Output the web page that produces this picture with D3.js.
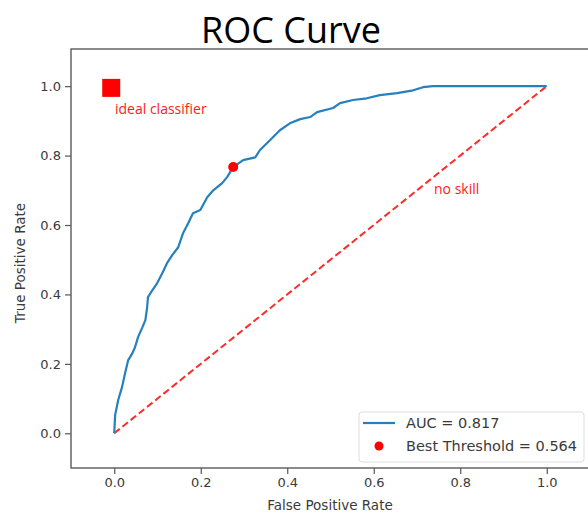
<!DOCTYPE html>
<html lang="en">
<head>
  <meta charset="UTF-8">
  <title>ROC Curve</title>
  <style>
  body { margin: 0; background: #fff; }
  svg { display: block; }
  .tick text { font-family: "DejaVu Sans", sans-serif; font-size: 13px; fill: #3a3a3a; }
  .tick line { stroke: #555; stroke-width: 1.2px; }
  .axis-label { font-family: "DejaVu Sans", sans-serif; font-size: 13.5px; fill: #3a3a3a; }
  .note { font-family: "Open Sans", sans-serif; font-size: 14px; fill: #ff2020; }
  .legend text { font-family: "DejaVu Sans", sans-serif; font-size: 14.5px; fill: #3a3a3a; }
  </style>
</head>
<body>
  <svg></svg>
  <script src="https://d3js.org/d3.v7.min.js"></script>
  <script>

  // ROC curve points (false positive rate, true positive rate)
  var fpr = [0, 0.002, 0.009, 0.018, 0.025, 0.032, 0.042, 0.048, 0.055, 0.065, 0.072, 0.076,
             0.078, 0.088, 0.099, 0.111, 0.122, 0.134, 0.148, 0.159, 0.171, 0.182, 0.199,
             0.215, 0.229, 0.238, 0.249, 0.261, 0.275, 0.298, 0.326, 0.337, 0.360, 0.383,
             0.406, 0.430, 0.453, 0.469, 0.506, 0.522, 0.552, 0.584, 0.614, 0.654, 0.691,
             0.714, 0.737, 1.0];
  var tpr = [0, 0.052, 0.095, 0.133, 0.173, 0.210, 0.231, 0.248, 0.277, 0.305, 0.326, 0.363,
             0.392, 0.412, 0.432, 0.461, 0.490, 0.513, 0.536, 0.576, 0.605, 0.634, 0.643,
             0.680, 0.700, 0.709, 0.720, 0.738, 0.767, 0.787, 0.795, 0.816, 0.844, 0.873,
             0.893, 0.905, 0.911, 0.925, 0.937, 0.951, 0.960, 0.965, 0.974, 0.980, 0.988,
             0.997, 1.0, 1.0];

  var noSkill = [[0, 0], [1, 1]];
  var bestPoint = [0.275, 0.767];
  var idealPoint = [-0.007, 0.995];

  var tickValues = [0, 0.2, 0.4, 0.6, 0.8, 1.0];
  var legendLabels = ['AUC = 0.817', 'Best Threshold = 0.564'];

  var width = 588, height = 514;
  var svg = d3.select('svg').attr('width', width).attr('height', height);

  var plotLeft = 71, plotTop = 49, plotRight = 590, plotBottom = 468;

  var x = d3.scaleLinear().domain([-0.1, 1.1]).range([plotLeft, plotRight]);
  var y = d3.scaleLinear().domain([-0.1, 1.107]).range([plotBottom, plotTop]);

  // title
  svg.append('text')
     .attr('x', 291)
     .attr('y', 43)
     .attr('text-anchor', 'middle')
     .style('font-family', '"Open Sans", sans-serif')
     .style('font-size', '36px')
     .style('fill', '#000')
     .text('ROC Curve');

  // axes
  svg.append('g')
     .attr('transform', 'translate(0,' + plotBottom + ')')
     .call(d3.axisBottom(x).tickValues(tickValues).tickFormat(d3.format('.1f')).tickSize(6).tickPadding(4))
     .call(function (g) { g.select('.domain').remove(); });

  svg.append('g')
     .attr('transform', 'translate(' + plotLeft + ',0)')
     .call(d3.axisLeft(y).tickValues(tickValues).tickFormat(d3.format('.1f')).tickSize(6).tickPadding(4))
     .call(function (g) { g.select('.domain').remove(); });

  // frame
  svg.append('rect')
     .attr('x', plotLeft)
     .attr('y', plotTop)
     .attr('width', plotRight - plotLeft)
     .attr('height', plotBottom - plotTop)
     .attr('fill', 'none')
     .attr('stroke', '#5a5a5a')
     .attr('stroke-width', 1.4);

  svg.append('text')
     .attr('class', 'axis-label')
     .attr('x', 330)
     .attr('y', 510)
     .attr('text-anchor', 'middle')
     .text('False Positive Rate');

  svg.append('text')
     .attr('class', 'axis-label')
     .attr('transform', 'translate(25,' + 263 + ') rotate(-90)')
     .attr('text-anchor', 'middle')
     .text('True Positive Rate');

  // no skill diagonal
  var line = d3.line()
    .x(function (d) { return x(d[0]); })
    .y(function (d) { return y(d[1]); });

  svg.append('path')
     .datum(noSkill)
     .attr('d', line)
     .attr('fill', 'none')
     .attr('stroke', '#ff2a2a')
     .attr('stroke-width', 2)
     .attr('stroke-dasharray', '7,3.5');

  // roc curve
  var roc = fpr.map(function (f, i) { return [f, tpr[i]]; });

  svg.append('path')
     .datum(roc)
     .attr('d', line)
     .attr('fill', 'none')
     .attr('stroke', '#2580c0')
     .attr('stroke-width', 2.2)
     .attr('stroke-linejoin', 'round');

  // best threshold
  svg.append('circle')
     .attr('cx', x(bestPoint[0]))
     .attr('cy', y(bestPoint[1]))
     .attr('r', 5)
     .attr('fill', 'red');

  // ideal classifier marker
  svg.append('rect')
     .attr('x', x(idealPoint[0]) - 9)
     .attr('y', y(idealPoint[1]) - 9)
     .attr('width', 18)
     .attr('height', 18)
     .attr('fill', 'red');

  svg.append('text')
     .attr('class', 'note')
     .attr('x', 115)
     .attr('y', 114)
     .text('ideal classifier');

  svg.append('text')
     .attr('class', 'note')
     .attr('x', 434)
     .attr('y', 194)
     .text('no skill');

  // legend
  var legend = svg.append('g').attr('class', 'legend');

  legend.append('rect')
     .attr('x', 359)
     .attr('y', 412)
     .attr('width', 225)
     .attr('height', 50)
     .attr('rx', 3)
     .attr('fill', '#fff')
     .attr('fill-opacity', 0.8)
     .attr('stroke', '#ddd');

  legend.append('line')
     .attr('x1', 363).attr('x2', 395)
     .attr('y1', 423).attr('y2', 423)
     .attr('stroke', '#2580c0')
     .attr('stroke-width', 2.2);

  legend.append('circle')
     .attr('cx', 379)
     .attr('cy', 446)
     .attr('r', 4.5)
     .attr('fill', 'red');

  legend.selectAll('text.entry')
     .data(legendLabels)
     .enter()
     .append('text')
     .attr('class', 'entry')
     .attr('x', 406)
     .attr('y', function (d, i) { return 428 + i * 23; })
     .text(function (d) { return d; });

  </script>
</body>
</html>
